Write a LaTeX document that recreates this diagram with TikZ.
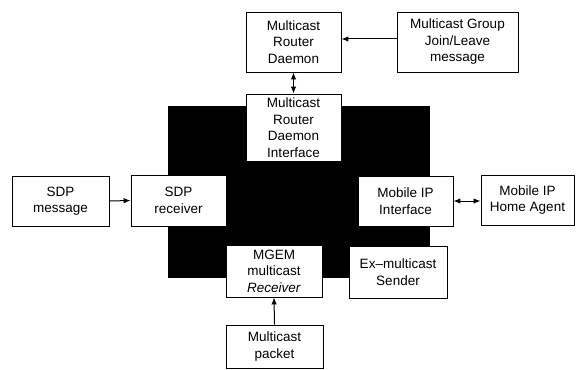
\documentclass[tikz,border=0pt]{standalone}
\usepackage{fontspec}
\setmainfont{Liberation Sans}
\usetikzlibrary{arrows.meta}
\begin{document}
\begin{tikzpicture}[x=1pt,y=-1pt,
  box/.style={draw=black,line width=0.9pt,fill=white,align=center,inner sep=0pt,
    font=\fontsize{13.5}{16.5}\selectfont},
  arr/.style={line width=1pt,-{Latex[length=7pt,width=5.5pt]}},
  darr/.style={line width=1pt,{Latex[length=7pt,width=5.5pt]}-{Latex[length=7pt,width=5.5pt]}}]
\useasboundingbox (0,0) rectangle (577,369);
\fill[black] (168,106) rectangle (430,278);
\node[box,minimum width=95pt,minimum height=60pt] (mrd) at (293.5,42) {Multicast\\Router\\Daemon};
\node[box,minimum width=121pt,minimum height=60pt] (grp) at (457.5,42) {Multicast Group\\Join/Leave\\message};
\node[box,minimum width=95pt,minimum height=67pt] (mrdi) at (293.5,127.5) {Multicast\\Router\\Daemon\\Interface};
\node[box,minimum width=97pt,minimum height=50pt] (sdpm) at (60.5,201) {SDP\\message};
\node[box,minimum width=95pt,minimum height=51pt] (sdpr) at (178.5,200.5) {SDP\\receiver};
\node[box,minimum width=95pt,minimum height=50pt] (mipi) at (405.5,201) {Mobile IP\\Interface};
\node[box,minimum width=93pt,minimum height=50pt] (ha) at (527.5,200) {Mobile IP\\Home Agent};
\node[box,minimum width=96pt,minimum height=52pt] (mgem) at (274,271) {MGEM\\multicast\\\textit{Receiver}};
\node[box,minimum width=98pt,minimum height=52pt] (ex) at (398,272) {Ex–multicast\\Sender};
\node[box,minimum width=97pt,minimum height=43pt] (pkt) at (274.5,346.5) {Multicast\\packet};
\draw[arr] ([yshift=3pt]grp.west) -- ([yshift=3pt]mrd.east);
\draw[darr] (mrd.south) -- (mrdi.north);
\draw[arr] (sdpm.east) -- (sdpr.west);
\draw[darr] (mipi.east) -- (mipi.east -| ha.west);
\draw[arr] (pkt.north) -- (mgem.south);
\end{tikzpicture}
\end{document}
